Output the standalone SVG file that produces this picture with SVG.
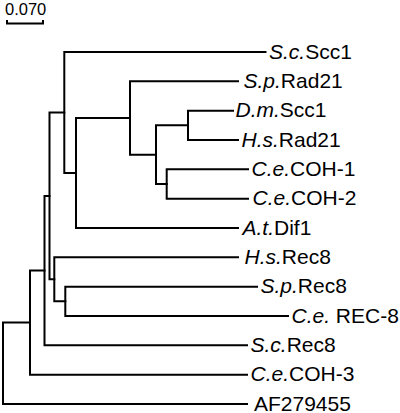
<svg xmlns="http://www.w3.org/2000/svg" width="400" height="413" viewBox="0 0 400 413">
<style>
.br{fill:none;stroke:#000;stroke-width:2;stroke-linejoin:miter;stroke-linecap:square}
.lb{font-family:"Liberation Sans",Arial,sans-serif;font-size:21px;fill:#000}
.it{font-style:italic}
.sc{font-family:"Liberation Sans",Arial,sans-serif;font-size:16.5px;fill:#000}
</style>
<rect width="400" height="413" fill="#fff"/>
<g id="scale">
<text class="sc" x="5" y="15">0.070</text>
<path class="br" d="M7 21 V23.5 H43 V21" stroke-linecap="butt"/>
</g>
<g id="connectors">
<path class="br" d="M233 110.7 H188 V140 H238"/>
<path class="br" d="M248 169.3 H166.7 V198.7 H248"/>
<path class="br" d="M188 125.3 H156 V184 H166.7"/>
<path class="br" d="M238 81.3 H130 V154.7 H156"/>
<path class="br" d="M130 118 H76 V228 H238"/>
<path class="br" d="M265.5 52 H64.3 V173 H76"/>
<path class="br" d="M257 286.7 H65.3 V316 H288"/>
<path class="br" d="M238 257.3 H54.3 V301.3 H65.3"/>
<path class="br" d="M64.3 112.5 H49.5 V279.3 H54.3"/>
<path class="br" d="M49.5 195.9 H44.5 V345.3 H247"/>
<path class="br" d="M44.5 270.6 H30 V374.7 H247"/>
<path class="br" d="M30 322.6 H3 V404 H247"/>
</g>
<g id="n-ScScc1"><text class="lb" x="269" y="58.5"><tspan class="it">S.c.</tspan>Scc1</text></g>
<g id="n-SpRad21"><text class="lb" x="243.5" y="87.8"><tspan class="it">S.p.</tspan>Rad21</text></g>
<g id="n-DmScc1"><text class="lb" x="235.5" y="117.2"><tspan class="it">D.m.</tspan>Scc1</text></g>
<g id="n-HsRad21"><text class="lb" x="241.5" y="146.5"><tspan class="it">H.s.</tspan>Rad21</text></g>
<g id="n-CeCOH1"><text class="lb" x="251.5" y="175.8"><tspan class="it">C.e.</tspan>COH-1</text></g>
<g id="n-CeCOH2"><text class="lb" x="252.5" y="205.2"><tspan class="it">C.e.</tspan>COH-2</text></g>
<g id="n-AtDif1"><text class="lb" x="242.5" y="234.5"><tspan class="it">A.t.</tspan>Dif1</text></g>
<g id="n-HsRec8"><text class="lb" x="244.5" y="263.8"><tspan class="it">H.s.</tspan>Rec8</text></g>
<g id="n-SpRec8"><text class="lb" x="260.5" y="293.2"><tspan class="it">S.p.</tspan>Rec8</text></g>
<g id="n-CeREC8"><text class="lb" x="291.5" y="322.5"><tspan class="it">C.e.</tspan> REC-8</text></g>
<g id="n-ScRec8"><text class="lb" x="250.5" y="351.8"><tspan class="it">S.c.</tspan>Rec8</text></g>
<g id="n-CeCOH3"><text class="lb" x="250.5" y="381.2"><tspan class="it">C.e.</tspan>COH-3</text></g>
<g id="n-AF279455"><text class="lb" x="254" y="410.5">AF279455</text></g>
</svg>
